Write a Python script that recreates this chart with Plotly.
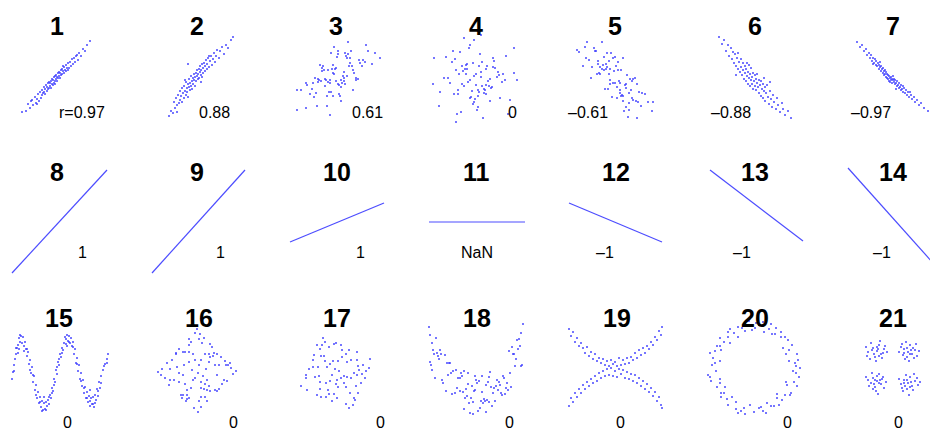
import plotly.graph_objects as go

W, H = 930, 430

# panel centres (px) and the text drawn with each panel
COL_X = [57, 197, 336, 476, 615, 755, 893]
ROW_Y = [78, 220, 373]
TITLES = ["1", "2", "3", "4", "5", "6", "7",
          "8", "9", "10", "11", "12", "13", "14",
          "15", "16", "17", "18", "19", "20", "21"]
R_LABELS = ["r=0.97", "0.88", "0.61", "0", "\u20130.61", "\u20130.88", "\u20130.97",
            "1", "1", "1", "NaN", "\u20131", "\u20131", "\u20131",
            "0", "0", "0", "0", "0", "0", "0"]
TITLE_POS = [(57, 26), (197, 26), (336, 26), (476, 26), (615, 26), (755, 26), (893, 26),
             (57, 172), (197, 172), (337, 172), (476, 172), (616, 172), (755, 172), (893, 172),
             (59, 318), (199, 318), (337, 318), (477, 318), (617, 318), (755, 318), (893, 318)]
LABEL_POS = [(82, 112), (214, 112), (367, 112), (512, 112), (588, 112), (731, 112), (871, 112),
             (82, 253), (220, 253), (360, 253), (477, 253), (605, 253), (742, 253), (882, 253),
             (67, 422), (233, 422), (380, 422), (509, 422), (620, 422), (787, 422), (898, 422)]

# ---- sample clouds (x, y) per panel ----
P1 = [(-35,-34),(-31,-33),(-29,-26),(-27,-30),(-25,-22),(-24,-27),(-22,-19),(-21,-25),(-20,-21),(-19,-16),
      (-18,-23),(-17,-14),(-16,-20),(-15,-12),(-15,-17),(-14,-15),(-13,-9),(-13,-14),(-12,-16),(-12,-11),
      (-11,-7),(-10,-13),(-10,-9),(-9,-11),(-9,-5),(-8,-10),(-8,-4),(-7,-8),(-7,-5),(-6,-10),(-6,-3),
      (-5,-6),(-5,-1),(-4,-7),(-4,-2),(-3,-5),(-3,1),(-2,-3),(-2,2),(-1,-1),(-1,3),(0,1),(0,-3),(1,5),
      (1,0),(2,2),(2,6),(3,0),(3,5),(4,8),(4,3),(5,9),(5,4),(6,7),(7,5),(7,11),(8,8),(9,13),(9,7),(10,10),
      (11,15),(12,10),(13,16),(14,12),(15,19),(16,14),(17,20),(18,16),(20,23),(21,18),(22,25),(24,22),
      (26,29),(28,27),(30,33),(33,37),(-20,-26),(-26,-23),(6,12),(11,8),(-2,-6),(19,22)]
P2 = [(-28,-38),(-26,-33),(-24,-35),(-23,-24),(-22,-30),(-21,-20),(-20,-27),(-19,-17),(-18,-25),(-17,-22),
      (-17,-13),(-16,-18),(-15,-24),(-15,-10),(-14,-15),(-13,-20),(-13,-8),(-12,-13),(-11,-17),(-11,-4),
      (-10,-10),(-10,-14),(-9,-6),(-9,-19),(-8,-9),(-8,-1),(-7,-12),(-7,-5),(-6,-8),(-6,2),(-5,-3),(-5,-11),
      (-4,0),(-4,-6),(-3,4),(-3,-2),(-2,-8),(-2,1),(-1,5),(-1,-3),(0,2),(0,8),(1,-1),(1,4),(2,9),(2,0),
      (3,6),(3,12),(4,3),(4,8),(5,14),(5,1),(6,10),(6,5),(7,15),(8,7),(8,12),(9,18),(10,9),(10,14),(11,20),
      (12,11),(13,17),(14,22),(15,13),(16,19),(17,25),(18,16),(19,22),(20,28),(22,20),(23,27),(25,31),
      (27,24),(29,33),(31,30),(34,38),(36,41),(-12,-2),(4,-4),(12,22),(-20,-34),(-9,14)]
P3 = [(5,-2),(-18,-4),(12,24),(-3,-18),(23,18),(-11,-8),(2,24),(-29,-7),(9,-6),(-6,-2),(17,-12),(-21,0),
      (0,-3),(32,27),(-14,10),(8,-3),(-2,4),(20,-2),(-35,-12),(11,20),(-8,-4),(3,-16),(-15,-3),(26,12),
      (-5,25),(6,-5),(-24,-11),(14,20),(-9,-18),(1,21),(29,16),(-17,-2),(5,-23),(-12,8),(18,5),(-3,5),
      (-30,-5),(8,6),(-7,-14),(15,27),(-20,-15),(2,27),(11,2),(-10,-2),(22,-1),(-4,9),(-23,-5),(7,2),
      (36,14),(-13,12),(4,-18),(-1,9),(16,12),(-26,-16),(10,22),(-5,-14),(14,15),(-16,13),(2,-6),(24,15),
      (-8,8),(-19,-28),(13,12),(-2,31),(8,0),(-39,-12),(20,0),(-11,-1),(3,-7),(-14,7),(27,18),(-6,-5),
      (9,25),(-22,-19),(0,10),(5,-9),(-3,13),(17,8),(-9,-28),(-18,-1),(-39,-32),(39,25),(12,36),(-6,-37),
      (44,20),(-30,-30),(30,33)]
P4 = [(-18,-12),(-10,4),(18,17),(-3,-26),(5,1),(0,-7),(-23,27),(10,9),(-6,-20),(29,-2),(-15,-34),(3,12),
      (-12,-8),(22,6),(-42,20),(8,-15),(-2,2),(14,-23),(-20,8),(-9,14),(26,-4),(2,-29),(-17,4),(15,-10),
      (-6,33),(10,-16),(-28,0),(17,11),(-1,-21),(4,24),(-14,-6),(38,5),(7,-40),(-24,16),(-4,-13),(23,3),
      (-10,13),(12,-3),(2,-18),(-21,19),(16,-9),(-7,30),(9,-12),(-32,0),(-2,-24),(19,10),(-13,7),(6,-8),
      (-18,-16),(30,22),(1,-32),(-9,9),(14,-1),(-26,-5),(6,16),(-5,-19),(27,4),(-16,26),(3,-14),(-8,-4),
      (11,12),(-37,-28),(21,1),(-2,38),(8,-11),(-14,12),(34,-22),(0,4),(-22,-16),(17,20),(-6,-2),(10,-7),
      (-30,21),(2,-12),(-11,9),(24,-20),(-3,15),(13,-8),(-19,-36),(5,6),(-43,-6),(41,-2),(5,43),(-20,-44),
      (38,30),(-36,-14),(32,-36),(-12,40)]
P5 = [(-9,9),(6,-18),(18,-1),(-23,11),(3,16),(-5,-6),(27,-15),(11,-29),(-17,17),(0,-5),(-30,31),(14,-25),
      (-6,4),(8,20),(21,-23),(-12,13),(4,-3),(-20,27),(9,-33),(15,-1),(-2,-5),(-26,18),(5,-15),(-8,25),
      (33,-24),(-15,11),(2,-20),(12,3),(-18,4),(24,-14),(-4,25),(7,-17),(-36,26),(17,-20),(-11,21),(5,-5),
      (14,-32),(-1,7),(-15,4),(20,0),(-7,-11),(30,-16),(-9,14),(2,-9),(-21,30),(11,-10),(8,-23),(-5,9),
      (-13,36),(23,-24),(-29,20),(10,-7),(1,12),(-3,-19),(17,-3),(-16,5),(6,8),(26,-28),(-11,8),(-2,20),
      (14,-15),(-24,0),(3,8),(38,-24),(-8,11),(13,-39),(-19,27),(5,-12),(-13,9),(18,-22),(0,21),(-5,-2),
      (22,-6),(-10,-11),(11,-6),(-17,14),(16,-12),(-6,17),(-32,12),(8,-18),(-38,28),(37,-33),(-28,36),
      (22,-40)]
P6 = [(-36,41),(-33,34),(-31,38),(-29,27),(-27,33),(-26,22),(-24,30),(-23,19),(-22,26),(-21,15),(-20,24),
      (-19,12),(-18,20),(-17,9),(-17,25),(-16,16),(-15,6),(-14,19),(-14,11),(-13,3),(-12,15),(-12,8),(-11,-1),
      (-10,12),(-10,5),(-9,-3),(-9,9),(-8,2),(-8,15),(-7,-6),(-7,6),(-6,0),(-5,-8),(-5,4),(-4,-2),(-4,10),
      (-3,-6),(-3,1),(-2,-11),(-2,5),(-1,-3),(0,-8),(0,3),(1,-1),(1,-12),(2,-5),(2,4),(3,-9),(4,-15),(4,-2),
      (5,-7),(6,-18),(6,-3),(7,-11),(8,-6),(8,-20),(9,-13),(10,-9),(10,-23),(11,-15),(12,-7),(13,-19),
      (14,-26),(15,-13),(16,-21),(17,-29),(18,-17),(19,-24),(21,-31),(22,-20),(23,-27),(25,-34),(27,-25),
      (28,-31),(30,-37),(33,-33),(36,-40),(-6,13),(9,0),(-19,3),(15,-4)]
P7 = [(-36,36),(-33,31),(-31,33),(-29,27),(-27,29),(-26,23),(-24,25),(-23,20),(-22,23),(-21,17),(-20,20),
      (-19,15),(-18,19),(-17,13),(-17,17),(-16,12),(-15,15),(-14,9),(-14,13),(-13,11),(-12,7),(-12,12),
      (-11,9),(-10,5),(-10,10),(-9,7),(-9,3),(-8,8),(-8,4),(-7,6),(-7,1),(-6,4),(-6,0),(-5,3),(-5,-1),(-4,2),
      (-4,-3),(-3,0),(-3,-4),(-2,1),(-2,-2),(-1,-1),(-1,-5),(0,-2),(0,2),(1,-4),(1,-1),(2,-6),(2,-2),(3,-5),
      (4,-8),(4,-3),(5,-7),(6,-10),(6,-5),(7,-9),(8,-12),(8,-7),(9,-11),(10,-14),(11,-10),(12,-15),(13,-12),
      (14,-17),(15,-14),(16,-19),(18,-17),(19,-21),(21,-19),(22,-24),(24,-22),(26,-27),(28,-25),(31,-30),
      (35,-33),(-20,14),(-13,16),(3,-11),(10,-8),(17,-14)]

# ---- exact linear relations: end points of each sampled segment ----
L8 = [(-45, -53), (50, 50)]
L9 = [(-45, -53), (48, 50)]
L10 = [(-46, -22), (48, 17)]
L11 = [(-47, -2), (49, -2)]
L12 = [(-46, 17), (47, -22)]
L13 = [(-45, 50), (48, -21)]
L14 = [(-45, 52), (49, -53)]

# ---- non-linear relations ----
P15 = [(-45,-6),(-44,1),(-43,8),(-42,14),(-41,19),(-40,25),(-39,28),(-38,35),(-37,31),(-36,37),(-35,30),
       (-34,36),(-33,27),(-32,31),(-31,24),(-30,17),(-29,21),(-28,9),(-27,13),(-26,0),(-25,6),(-24,-9),
       (-23,-3),(-22,-17),(-21,-12),(-20,-25),(-19,-19),(-18,-30),(-17,-24),(-16,-34),(-15,-28),(-14,-37),
       (-13,-30),(-12,-36),(-11,-29),(-10,-33),(-9,-27),(-8,-31),(-7,-22),(-6,-25),(-5,-15),(-4,-18),(-3,-6),
       (-2,-9),(-1,3),(0,-1),(1,11),(2,8),(3,19),(4,16),(5,25),(6,23),(7,30),(8,36),(9,29),(10,38),(11,32),
       (12,37),(13,30),(14,35),(15,27),(16,31),(17,19),(18,24),(19,10),(20,15),(21,2),(22,8),(23,-6),(24,0),
       (25,-13),(26,-7),(27,-20),(28,-14),(29,-25),(30,-19),(31,-29),(32,-23),(33,-33),(34,-25),(35,-31),
       (36,-24),(37,-34),(38,-22),(39,-27),(40,-16),(41,-23),(42,-9),(43,-15),(44,-3),(46,3),(48,9),(50,14),
       (51,19),(-38,24),(10,27),(-13,-24),(33,-17),(-43,2),(-41,25),(-39,20),(-37,38),(-33,22),(-30,24),
       (-27,3),(-24,-2),(-21,-22),(-17,-29),(-15,-38),(-11,-37),(-8,-24),(-5,-20),(-3,-12),(0,6),(2,14),
       (5,20),(9,34),(12,31),(16,26),(20,9),(24,-8),(27,-15),(30,-25),(33,-28),(36,-31),(38,-30),(41,-18),
       (44,-10),(47,7),(50,10)]
P16 = [(-4,19),(-10,-17),(31,8),(-21,19),(12,11),(-10,-26),(-2,13),(8,-24),(2,34),(-12,-11),(18,-17),
       (8,19),(4,-15),(7,35),(-10,-22),(-8,28),(10,-17),(12,19),(-18,0),(22,-16),(-16,-22),(-8,34),(4,-9),
       (29,8),(-14,-2),(-8,21),(2,-28),(16,17),(-25,13),(10,-7),(27,-7),(-23,-7),(13,16),(12,-13),(-12,21),
       (-6,-15),(20,19),(-27,-7),(4,13),(7,-16),(18,8),(-20,6),(-14,21),(-14,-22),(17,20),(8,-11),(25,-11),
       (-18,-9),(-6,31),(4,-24),(-8,11),(22,8),(-4,-7),(2,8),(-27,4),(13,29),(13,-18),(20,-2),(-8,-25),
       (5,30),(0,44),(-2,40),(3,39),(-39,1),(-35,4),(-36,-2),(39,2),(36,-1),(34,5),(1,-39),(-3,-35),(4,-34),
       (-30,10),(-28,-12),(28,12),(30,-8),(-21,20),(20,-18),(-15,-25),(15,26),(-32,-5),(33,10),(-11,-28),
       (10,-28),(-18,24),(24,16),(-2,-5),(1,0),(-5,3),(6,-3),(9,4),(-13,8)]
P17 = [(15,13),(-15,17),(18,-25),(6,23),(10,-14),(-23,13),(-2,-21),(0,30),(20,-13),(-12,17),(-10,-24),
       (22,7),(-6,9),(19,-27),(-14,28),(11,-4),(-10,-10),(10,-31),(-11,12),(1,-7),(-19,28),(15,-5),(-15,-24),
       (26,-1),(-2,29),(2,-14),(-18,6),(27,8),(-9,6),(-7,-21),(8,-10),(-11,31),(23,3),(-8,-17),(0,-11),
       (-7,26),(25,-10),(-16,24),(1,-25),(-3,12),(18,0),(-16,-9),(13,23),(-27,4),(14,-20),(2,12),(8,-3),
       (-29,-17),(21,13),(-17,-3),(10,19),(21,-2),(-16,-16),(11,11),(-21,-4),(17,-32),(-1,4),(21,21),(-23,6),
       (29,-5),(34,14),(-13,35),(-35,-13),(13,-35),(5,28),(22,-20),(-22,18),(-30,-5),(-4,-28),(30,2),
       (-30,-2),(5,-5),(-4,-2),(3,2),(-6,-8),(6,16),(-19,-22),(33,5)]
P18 = [(12,-9),(-33,-10),(41,33),(-5,-25),(27,-3),(-44,3),(3,-8),(-21,-20),(36,26),(-13,-19),(19,-28),
       (-38,17),(8,-26),(-27,10),(45,7),(-1,-17),(31,-10),(-16,-5),(23,-9),(-41,-5),(6,-3),(-9,-23),(38,19),
       (-24,-21),(15,-14),(-35,19),(29,-21),(-3,-29),(43,34),(-19,-15),(10,-12),(-46,11),(33,22),(-11,-25),
       (21,-7),(-30,-18),(1,-10),(-7,-30),(40,14),(-26,10),(17,-20),(-37,14),(26,-22),(-14,-3),(5,-28),
       (-42,19),(35,-14),(-18,-5),(13,-29),(-31,18),(24,-12),(-2,-18),(46,8),(-23,2),(9,-28),(-39,20),
       (30,-15),(-12,2),(18,-15),(-28,-2),(-6,-40),(37,19),(-34,-7),(14,1),(-16,-18),(44,27),(-45,8),(0,-7),
       (22,-17),(-10,-16),(32,-17),(-36,23),(7,-30),(-20,3),(39,7),(-25,0),(4,-35),(-8,0),(28,-5),(-43,23),
       (16,-33),(-29,10),(11,-27),(-15,0),(34,0),(-4,-13),(25,-20),(-40,35),(20,-13),(-47,46),(-46,38),
       (47,49),(45,40),(-3,-41),(2,-38),(-12,-36),(10,-39),(42,24),(-44,30),(-1,-3),(6,-19),(-8,-11),(13,-4)]
P19 = [(-46,44),(-44,37),(-42,41),(-40,31),(-38,35),(-36,27),(-34,30),(-32,25),(-30,20),(-28,26),(-26,17),
       (-24,21),(-22,14),(-20,19),(-18,12),(-16,15),(-14,10),(-12,14),(-10,8),(-8,12),(-6,7),(-4,13),(-2,9),
       (0,11),(2,7),(4,15),(6,8),(8,13),(10,9),(12,15),(14,10),(16,16),(18,13),(20,20),(22,15),(24,23),(26,18),
       (28,25),(30,20),(32,27),(34,24),(36,31),(38,28),(40,36),(42,33),(44,42),(46,38),(47,46),
       (-46,-33),(-44,-25),(-42,-29),(-40,-20),(-38,-24),(-36,-16),(-34,-20),(-32,-12),(-30,-16),(-28,-9),
       (-26,-13),(-24,-6),(-22,-10),(-20,-3),(-18,-8),(-16,0),(-14,-5),(-12,2),(-10,-3),(-8,4),(-6,-2),(-4,5),
       (-2,-3),(0,2),(2,-4),(4,4),(6,-1),(8,3),(10,-5),(12,1),(14,-6),(16,-1),(18,-8),(20,-2),(22,-10),(24,-5),
       (26,-13),(28,-8),(30,-16),(32,-11),(34,-19),(36,-15),(38,-23),(40,-19),(42,-28),(44,-24),(46,-32),
       (47,-35)]
P20 = [(41,7),(34,12),(42,19),(34,23),(28,25),(33,33),(26,36),(26,41),(17,39),(16,49),(9,41),(4,48),(0,45),
       (-6,52),(-10,42),(-17,46),(-17,36),(-27,41),(-27,36),(-35,35),(-35,27),(-34,23),(-45,20),(-35,12),
       (-43,8),(-39,2),(-45,-4),(-35,-6),(-38,-14),(-30,-14),(-34,-24),(-28,-26),(-27,-32),(-19,-29),
       (-17,-40),(-11,-35),(-5,-32),(-1,-39),(4,-35),(11,-40),(12,-30),(19,-33),(24,-32),(22,-21),(30,-22),
       (36,-20),(32,-12),(39,-9),(44,-4),(38,2),(40,10),(31,19),(30,36),(20,39),(8,51),(-3,43),(-13,45),
       (-25,44),(-25,30),(-40,22),(-40,10),(-47,-2),(-35,-10),(-34,-20),(-23,-24),(-19,-36),(-10,-41),
       (6,-34),(16,-33),(22,-25),(35,-22),(31,-9),(41,0),(43,13),(37,28),(21,45),(1,50),(-21,40),(-31,31),
       (-42,15),(-44,-8),(-31,-20),(-14,-38),(8,-38),(27,-27),(42,-13),(45,5),(-7,47),(14,44),(-38,27)]
P21 = [(-16,22),(-20,25),(-12,19),(-25,21),(-9,24),(-18,16),(-14,28),(-22,30),(-11,15),(-27,26),(-6,21),
       (-19,19),(-15,24),(-23,14),(-13,32),(-8,27),(-17,12),(-21,23),(-26,17),(-10,20),(-16,26),(-14,17),
       (15,21),(11,24),(19,19),(8,26),(22,23),(14,16),(17,28),(24,17),(10,18),(13,31),(20,25),(6,21),(16,12),
       (26,22),(12,14),(18,23),(9,29),(21,15),(14,25),(17,19),(23,29),(11,20),
       (-16,-8),(-20,-5),(-12,-11),(-25,-7),(-10,-4),(-18,-14),(-14,-1),(-22,-10),(-9,-15),(-27,-4),(-17,-18),
       (-13,-7),(-21,0),(-7,-9),(-19,-11),(-15,-21),(-24,-13),(-11,-6),(-16,-3),(-18,-7),(-14,-10),(-20,-16),
       (15,-10),(11,-7),(19,-13),(8,-11),(22,-8),(14,-16),(17,-4),(25,-12),(10,-18),(13,-2),(20,-17),(6,-6),
       (16,-22),(24,-5),(12,-13),(18,-9),(9,-15),(21,-1),(14,-7),(17,-14),(27,-9),(11,-10)]

CLOUDS = {0: P1, 1: P2, 2: P3, 3: P4, 4: P5, 5: P6, 6: P7,
          14: P15, 15: P16, 16: P17, 17: P18, 18: P19, 19: P20, 20: P21}
LINES = {7: L8, 8: L9, 9: L10, 10: L11, 11: L12, 12: L13, 13: L14}

DOT = "rgba(60,60,255,0.7)"
HALF_W, HALF_H = 70, 62
FONT = "Liberation Sans, Arial, sans-serif"

fig = go.Figure()
layout = {}
for i in range(21):
    cx, cy = COL_X[i % 7], ROW_Y[i // 7]
    x0, x1 = max(0, cx - HALF_W), min(W, cx + HALF_W)
    top, bot = max(0, cy - HALF_H), min(H, cy + HALF_H)
    n = "" if i == 0 else str(i + 1)
    layout["xaxis" + n] = dict(domain=[x0 / W, x1 / W], range=[x0 - cx, x1 - cx],
                               visible=False, fixedrange=True, anchor="y" + n)
    layout["yaxis" + n] = dict(domain=[1 - bot / H, 1 - top / H], range=[cy - bot, cy - top],
                               visible=False, fixedrange=True, anchor="x" + n)
    if i in CLOUDS:
        xs, ys = zip(*CLOUDS[i])
        fig.add_trace(go.Scatter(x=xs, y=ys, mode="markers", xaxis="x" + n, yaxis="y" + n,
                                 marker=dict(size=2, symbol="square", color=DOT, line_width=0),
                                 hoverinfo="skip", showlegend=False))
    else:
        xs, ys = zip(*LINES[i])
        fig.add_trace(go.Scatter(x=xs, y=ys, mode="lines", xaxis="x" + n, yaxis="y" + n,
                                 line=dict(color="rgba(45,45,255,0.85)", width=1.2),
                                 hoverinfo="skip", showlegend=False))

annotations = []
for t, (px, py) in zip(TITLES, TITLE_POS):
    annotations.append(dict(text="<b>" + t + "</b>", x=px / W, y=1 - py / H, xref="paper", yref="paper",
                            showarrow=False, xanchor="center", yanchor="middle",
                            font=dict(family=FONT, size=25, color="black")))
for t, (px, py) in zip(R_LABELS, LABEL_POS):
    annotations.append(dict(text=t, x=px / W, y=1 - py / H, xref="paper", yref="paper",
                            showarrow=False, xanchor="center", yanchor="middle",
                            font=dict(family=FONT, size=16, color="black")))

fig.update_layout(width=W, height=H, margin=dict(l=0, r=0, t=0, b=0),
                  paper_bgcolor="white", plot_bgcolor="rgba(0,0,0,0)",
                  annotations=annotations, **layout)
fig.write_html("out.html")
